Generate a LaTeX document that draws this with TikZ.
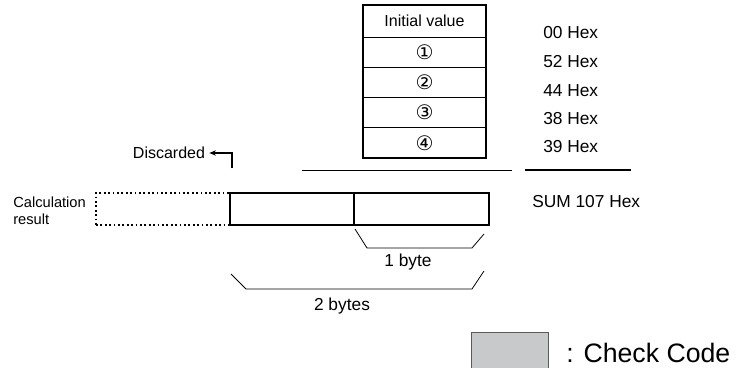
\documentclass[tikz,border=0pt]{standalone}
\usepackage{fontspec}
\setmainfont{Liberation Sans}
\newfontfamily\circfont{DejaVu Sans}
\definecolor{checkGray}{RGB}{200, 201, 203}
\definecolor{checkEdge}{RGB}{90, 90, 90}
\usetikzlibrary{arrows.meta, positioning, calc}

\begin{document}
\begin{tikzpicture}[x=0.75pt, y=-0.75pt,
    every node/.style={font=\fontsize{12}{14}\selectfont, inner sep=0pt},
    cell/.style={draw, line width=0.6pt, minimum width=92.25pt, minimum height=22.69pt},
    circnum/.style={cell, font=\circfont\fontsize{15}{17}\selectfont},
    hexval/.style={anchor=west, font=\fontsize{13}{15}\selectfont},
    bytebox/.style={draw, line width=1.5pt, minimum height=24pt},
    brace/.style={line width=0.6pt}]
    \useasboundingbox (0,0) rectangle (736,368);

    % register table
    \node[cell, minimum height=24pt] (init) at (424.5,21) {Initial value};
    \node[circnum] (r1) at (424.5,52.1) {①};
    \node[circnum] (r2) at (424.5,82.4) {②};
    \node[circnum] (r3) at (424.5,112.6) {③};
    \node[circnum] (r4) at (424.5,142.9) {④};
    \draw[line width=1.5pt] (init.north west) rectangle (r4.south east);

    \node[hexval] (h0) at (543,33) {00 Hex};
    \node[hexval] (h1) at (543,62) {52 Hex};
    \node[hexval] (h2) at (543,91) {44 Hex};
    \node[hexval] (h3) at (543,119) {38 Hex};
    \node[hexval] (h4) at (543,147) {39 Hex};

    \draw[line width=0.6pt] (302,170) -- (512,170);
    \draw[line width=1.5pt] (525,170) -- (631,170);
    \node[hexval] (sum) at (532,202) {SUM 107 Hex};

    % calculation result
    \node[draw, dotted, line width=1.3pt, minimum width=100.5pt, minimum height=24pt] (over) at (163,209) {};
    \node[bytebox, minimum width=93pt] (hi) at (292,209) {};
    \node[bytebox, minimum width=101.25pt] (lo) at (421.5,209) {};
    \node[anchor=west, align=left, font=\fontsize{11}{13}\selectfont] (calc) at (13,211) {Calculation\\result};

    \node (disc) at (169,153) {Discarded};
    \coordinate (dstart) at (232,168);
    \draw[-{Stealth[length=5pt, width=4pt]}, line width=0.8pt] (dstart) |- ([xshift=3pt]disc.east);

    % byte braces
    \draw[brace] ($(lo.south west)+(2,3)$) -- ++(12,19) -- ++(105,0) -- ++(12,-14);
    \node[font=\fontsize{13}{15}\selectfont] (one) at (408,262) {1 byte};
    \draw[brace] ($(hi.south west)+(2,48)$) -- ++(15,15) -- ++(226,0) -- ++(12,-18);
    \node[font=\fontsize{13}{15}\selectfont] (two) at (342,306) {2 bytes};

    % legend
    \node[draw=checkEdge, fill=checkGray, line width=0.6pt, minimum width=57.75pt, minimum height=30pt] (ckbox) at (509.5,352) {};
    \node[anchor=west, font=\fontsize{20}{24}\selectfont] (cklabel) at (566,353) {: Check Code};
\end{tikzpicture}
\end{document}
